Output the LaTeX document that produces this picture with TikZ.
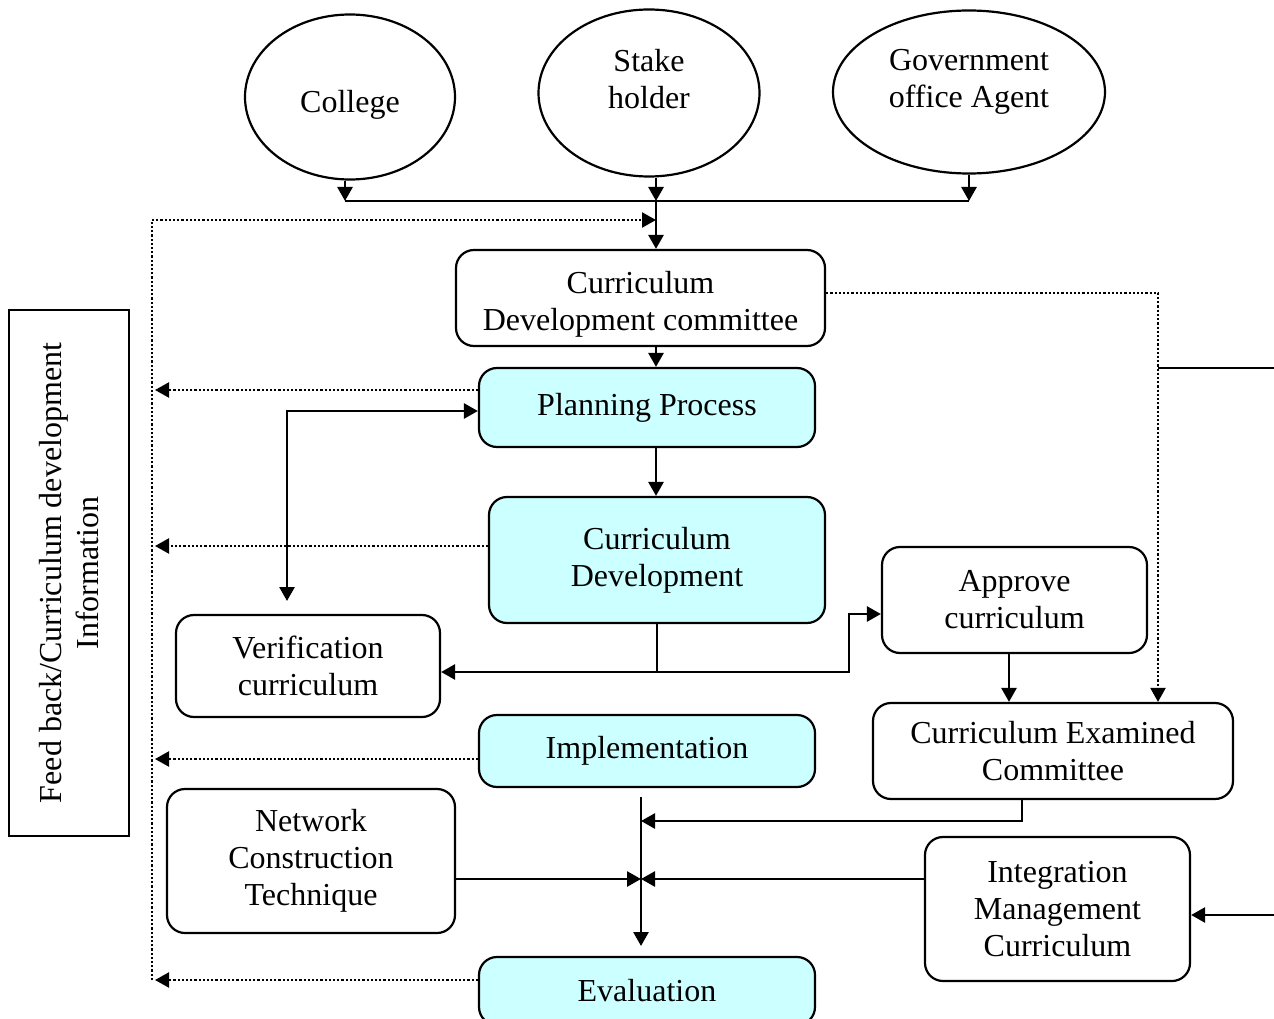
\documentclass[tikz,border=0pt]{standalone}
\usepackage{fontspec}
\setmainfont{Liberation Serif}
\usepackage{xcolor}
\definecolor{colorProcess}{HTML}{CCFFFF}
\usetikzlibrary{arrows.meta, positioning, shapes.geometric}
\tikzset{
  block/.style={draw, rounded corners=18pt, align=center, line width=2.2pt, inner sep=0pt, fill=white},
  process/.style={block, fill=colorProcess},
  party/.style={draw, ellipse, align=center, line width=2.2pt, inner sep=0pt},
  link/.style={line width=2.7pt},
  flow/.style={link, -{Triangle[length=14pt,width=15pt]}},
  twoway/.style={link, {Triangle[length=14pt,width=15pt]}-{Triangle[length=14pt,width=15pt]}},
  feedback/.style={line width=2.2pt, dotted, -{Triangle[length=14pt,width=15pt]}},
  fbline/.style={line width=2.2pt, dotted},
}

\begin{document}
\begin{tikzpicture}[x=1pt, y=-1pt, every node/.style={font=\fontsize{32}{37}\selectfont}]
\useasboundingbox (0,0) rectangle (1274,1019);
% sources
\node[party, minimum width=210, minimum height=165, label={[yshift=-8pt]center:College}] (college) at (350,97) {};
\node[party, minimum width=221, minimum height=167, label={[align=center, yshift=14pt]center:{Stake\\holder}}] (stake) at (649,93) {};
\node[party, minimum width=272, minimum height=163, label={[align=center, yshift=10pt]center:{Government\\office Agent}}] (govt) at (969,92) {};
% boxes
\node[block, minimum width=369, minimum height=96, label={[align=center, yshift=-6pt]center:{Curriculum\\Development committee}}] (cdc) at (640.5,298) {};
\node[process, minimum width=336, minimum height=79] (plan) at (647,407.5) {Planning Process};
\node[process, minimum width=336, minimum height=126] (cdev) at (657,560) {Curriculum\\Development};
\node[block, minimum width=264, minimum height=102] (verif) at (308,666) {Verification\\curriculum};
\node[block, minimum width=265, minimum height=106] (approve) at (1014.5,600) {Approve\\curriculum};
\node[block, minimum width=360, minimum height=96] (exam) at (1053,751) {Curriculum Examined\\Committee};
\node[process, minimum width=336, minimum height=72] (impl) at (647,751) {Implementation};
\node[block, minimum width=288, minimum height=144] (network) at (311,861) {Network\\Construction\\Technique};
\node[block, minimum width=265, minimum height=144] (integ) at (1057.5,909) {Integration\\Management\\Curriculum};
\node[process, minimum width=336, minimum height=68] (eval) at (647,991) {Evaluation};
\node[draw, line width=2.2pt, rotate=90, align=center, minimum width=526, minimum height=120, inner sep=0pt] (fb) at (69,573) {Feed back/Curriculum development\\Information};
% junctions
\coordinate (j1) at (345,201);
\coordinate (j2) at (656,201);
\coordinate (j3) at (969,201);
\coordinate (fbtop) at (152,220);
\coordinate (fbbot) at (152,980);
\coordinate (fb1) at (155,390);
\coordinate (fb2) at (155,546);
\coordinate (fb3) at (155,759);
\coordinate (fb4) at (155,980);
\coordinate (pv) at (287,411);
\coordinate (pvend) at (287,601);
\coordinate (cd1) at (657,672);
\coordinate (ap1) at (849,614);
\coordinate (dr) at (1158,368);
\coordinate (redge1) at (1274,368);
\coordinate (redge2) at (1274,915);
\coordinate (t1) at (641,797);
\coordinate (t2) at (641,946);
\coordinate (e1) at (1022,821);
\coordinate (m1) at (641,879);
% top merge
\draw[flow] (college.south -| j1) -- (j1);
\draw[flow] (stake.south -| j2) -- (j2);
\draw[flow] (govt.south -| j3) -- (j3);
\draw[link] (j1) -- (j3);
\draw[flow] (j2) -- (cdc.north -| j2);
% feedback loop
\draw[fbline] (fbbot) -- (fbtop);
\draw[feedback] (fbtop) -- (j2 |- fbtop);
\draw[feedback] (plan.west |- fb1) -- (fb1);
\draw[feedback] (cdev.west |- fb2) -- (fb2);
\draw[feedback] (impl.west |- fb3) -- (fb3);
\draw[feedback] (eval.west |- fb4) -- (fb4);
% main chain
\draw[flow] (cdc.south -| j2) -- (plan.north -| j2);
\draw[flow] (plan.south -| j2) -- (cdev.north -| j2);
\draw[twoway] (plan.west |- pv) -- (pv) -- (pvend);
\draw[link] (cdev.south -| cd1) -- (cd1);
\draw[flow] (cd1) -- (verif.east |- cd1);
\draw[flow] (cd1) -| (ap1) -- (approve.west |- ap1);
\draw[flow] (approve.south -| 1009,0) -- (exam.north -| 1009,0);
\draw[feedback] (cdc.east |- 0,293) -| (exam.north -| dr);
\draw[link] (dr) -- (redge1);
% towards evaluation
\draw[flow] (t1) -- (t2);
\draw[flow] (exam.south -| e1) -- (e1) -- (e1 -| t1);
\draw[flow] (network.east |- m1) -- (m1);
\draw[flow] (integ.west |- m1) -- (m1);
\draw[flow] (redge2) -- (integ.east |- redge2);
\end{tikzpicture}
\end{document}
